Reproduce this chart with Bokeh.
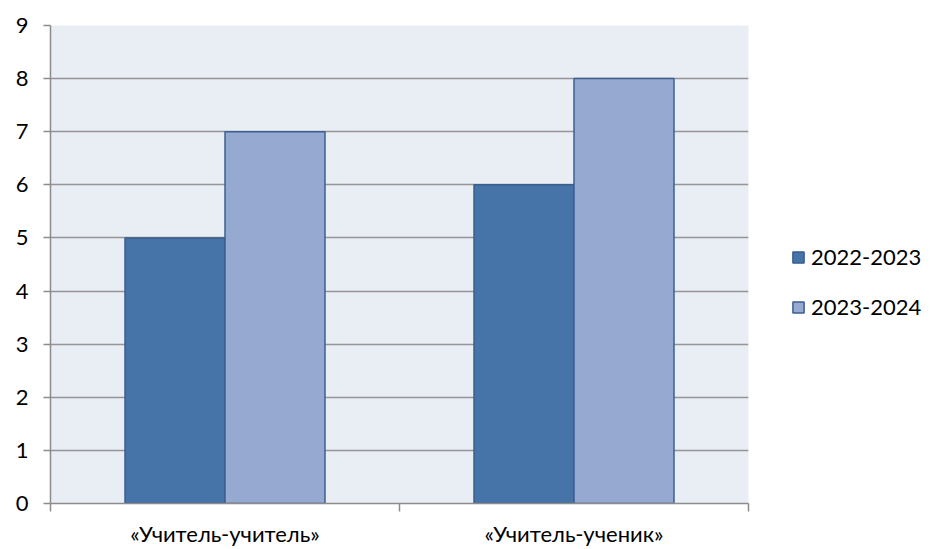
from bokeh.plotting import figure
from bokeh.layouts import row
from bokeh.models import Range1d, FixedTicker, Legend, LegendItem, ColumnDataSource
from bokeh.embed import file_html
from bokeh.resources import INLINE

categories = ["«Учитель-учитель»", "«Учитель-ученик»"]
series_names = ["2022-2023", "2023-2024"]
values_2022 = [5, 6]
values_2023 = [7, 8]
y_ticks = [0, 1, 2, 3, 4, 5, 6, 7, 8, 9]
colors = ["#4674A8", "#95A9D1"]
edges = ["#3A5E8C", "#3C5F92"]

FONT = "Lato"
bar_w = 0.2865
centers = [i + 0.5 for i in range(len(categories))]

p = figure(width=750, height=549, output_backend="svg", toolbar_location=None,
           x_range=Range1d(0, len(categories)), y_range=Range1d(0, 9))
p.min_border_left = 50
p.min_border_right = 2
p.min_border_top = 25
p.min_border_bottom = 45
p.background_fill_color = "#E9EDF4"
p.border_fill_color = "white"
p.outline_line_color = None

src1 = ColumnDataSource(dict(x=[c - bar_w / 2 for c in centers], top=values_2022))
src2 = ColumnDataSource(dict(x=[c + bar_w / 2 for c in centers], top=values_2023))
sources = [src1, src2]
for src, fc, lc in zip(sources, colors, edges):
    p.vbar(x="x", top="top", width=bar_w, source=src, fill_color=fc,
           line_color=lc, line_width=1.5)

# grid
p.xgrid.grid_line_color = None
p.ygrid.ticker = FixedTicker(ticks=y_ticks)
p.ygrid.grid_line_color = "#959595"
p.ygrid.grid_line_width = 1.5

# y axis
ya = p.yaxis[0]
ya.ticker = FixedTicker(ticks=y_ticks)
ya.axis_line_color = "#8C8C8C"
ya.axis_line_width = 1.5
ya.major_tick_line_color = "#8C8C8C"
ya.major_tick_line_width = 1.5
ya.major_tick_out = 7
ya.major_tick_in = 0
ya.minor_tick_line_color = None
ya.major_label_text_font = FONT
ya.major_label_text_font_size = "22px"
ya.major_label_text_color = "black"
ya.major_label_standoff = 15

# x axis
xa = p.xaxis[0]
xa.ticker = FixedTicker(ticks=centers, minor_ticks=[0, 1, 2])
xa.major_label_overrides = {c: name for c, name in zip(centers, categories)}
xa.axis_line_color = "#8C8C8C"
xa.axis_line_width = 1.5
xa.major_tick_line_color = None
xa.major_tick_out = 6
xa.minor_tick_line_color = "#8C8C8C"
xa.minor_tick_line_width = 1.5
xa.minor_tick_out = 8
xa.minor_tick_in = 0
xa.major_label_text_font = FONT
xa.major_label_text_font_size = "22px"
xa.major_label_text_color = "black"
xa.major_label_standoff = 8

# legend panel (separate figure to the right)
lf = figure(width=180, height=549, output_backend="svg", toolbar_location=None,
            x_range=Range1d(0, 1), y_range=Range1d(0, 1),
            x_axis_location=None, y_axis_location=None)
lf.min_border_left = 0
lf.min_border_right = 0
lf.min_border_top = 0
lf.min_border_bottom = 0
lf.outline_line_color = None
lf.xgrid.grid_line_color = None
lf.ygrid.grid_line_color = None
lf.background_fill_color = "white"

items = []
for name, src, fc, lc in zip(series_names, sources, colors, edges):
    rr = lf.vbar(x="x", top="top", width=bar_w, source=src, fill_color=fc,
                 line_color=lc, line_width=1.5, visible=False)
    items.append(LegendItem(label=name, renderers=[rr]))

legend = Legend(items=items, location=(41, 183))
legend.padding = 0
legend.margin = 0
legend.border_line_color = None
legend.background_fill_alpha = 0
legend.inactive_fill_alpha = 0
legend.glyph_width = 14
legend.glyph_height = 14
legend.label_height = 22
legend.spacing = 23
legend.label_standoff = 6
legend.label_text_font = FONT
legend.label_text_font_size = "22px"
legend.label_text_color = "black"
lf.add_layout(legend, "center")

layout = row(p, lf, spacing=0)
open("out.html", "w").write(file_html(layout, INLINE))
